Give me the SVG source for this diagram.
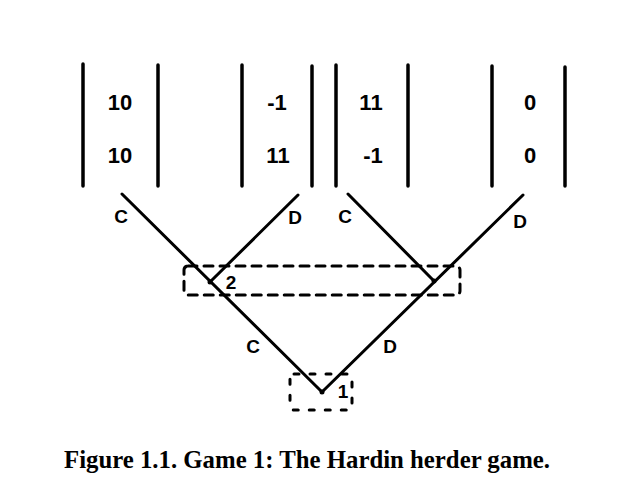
<svg xmlns="http://www.w3.org/2000/svg" width="636" height="502" viewBox="0 0 636 502">
<style>
.bar{stroke:#000;stroke-width:3.5;stroke-linecap:round;fill:none}
.edge{stroke:#000;stroke-width:3;stroke-linecap:round;fill:none}
.info{stroke:#000;stroke-width:3;fill:none;stroke-linecap:round}
.pay{font-family:"Liberation Sans",Arial,sans-serif;font-weight:bold;font-size:22px;text-anchor:middle;fill:#000}
.lab{font-family:"Liberation Sans",Arial,sans-serif;font-weight:bold;font-size:19px;text-anchor:middle;fill:#000}
.cap{font-family:"Liberation Serif","Times New Roman",serif;font-weight:bold;font-size:25px;fill:#000}
</style>
<rect width="636" height="502" fill="#fff"/>
<g id="payoff-CC">
<line class="bar" x1="83" y1="64" x2="83" y2="186"/>
<line class="bar" x1="158" y1="65" x2="158" y2="186"/>
<text class="pay" x="120" y="110">10</text>
<text class="pay" x="120" y="163">10</text>
</g>
<g id="payoff-CD">
<line class="bar" x1="242" y1="65" x2="242" y2="186"/>
<line class="bar" x1="312" y1="66" x2="312" y2="186"/>
<text class="pay" x="277" y="110">-1</text>
<text class="pay" x="278" y="163">11</text>
</g>
<g id="payoff-DC">
<line class="bar" x1="336" y1="65" x2="336" y2="186"/>
<line class="bar" x1="408" y1="65" x2="408" y2="186"/>
<text class="pay" x="371" y="110">11</text>
<text class="pay" x="373" y="163">-1</text>
</g>
<g id="payoff-DD">
<line class="bar" x1="492" y1="66" x2="492" y2="186"/>
<line class="bar" x1="565" y1="67" x2="565" y2="186"/>
<text class="pay" x="530" y="110">0</text>
<text class="pay" x="530" y="163">0</text>
</g>
<g id="connectors">
<line class="edge" x1="122" y1="194" x2="322" y2="392"/>
<line class="edge" x1="523" y1="195" x2="322" y2="392"/>
<line class="edge" x1="210" y1="282" x2="298" y2="195"/>
<line class="edge" x1="348" y1="194" x2="434" y2="281"/>
<text class="lab" x="121" y="223">C</text>
<text class="lab" x="295" y="224">D</text>
<text class="lab" x="345" y="223">C</text>
<text class="lab" x="520" y="228">D</text>
<text class="lab" x="253" y="353">C</text>
<text class="lab" x="390" y="353">D</text>
</g>
<g id="node-2">
<rect class="info" x="184" y="266" width="276" height="29" rx="4" stroke-dasharray="9 7"/>
<circle cx="210" cy="282" r="2.5"/>
<circle cx="434" cy="281" r="2.5"/>
<text class="lab" x="231" y="289">2</text>
</g>
<g id="node-1">
<rect class="info" x="290" y="374" width="62" height="36" rx="4" stroke-dasharray="5 11"/>
<circle cx="322" cy="392" r="2.5"/>
<text class="lab" x="343" y="398">1</text>
</g>
<text class="cap" x="64" y="468" textLength="486" lengthAdjust="spacingAndGlyphs">Figure 1.1. Game 1: The Hardin herder game.</text>
</svg>
